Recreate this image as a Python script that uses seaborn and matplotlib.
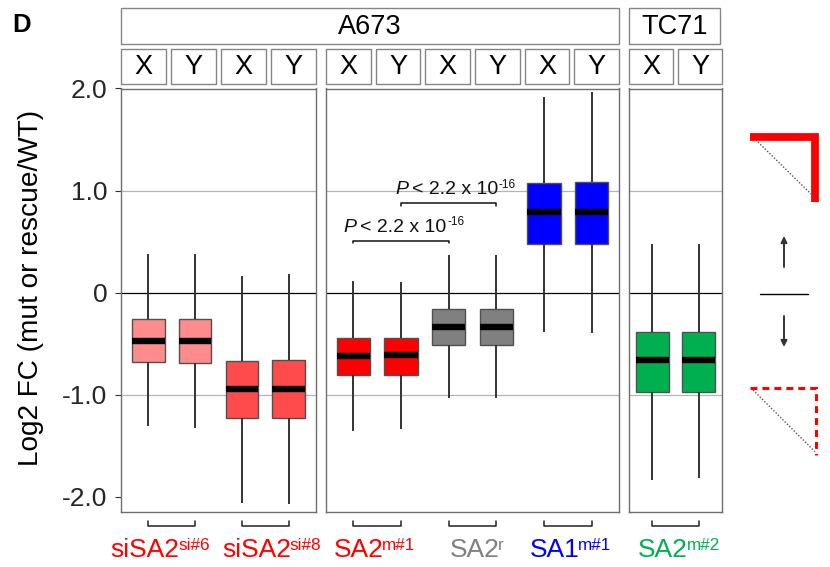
import numpy as np
import pandas as pd
import matplotlib
matplotlib.use("Agg")
import matplotlib.pyplot as plt
import matplotlib.transforms as mtransforms
from matplotlib.patches import Rectangle
import seaborn as sns

# ---------------------------------------------------------------------------
# Data: five-number summaries (lower whisker, Q1, median, Q3, upper whisker)
# of log2 fold change per condition, for chromosome X and chromosome Y genes.
# ---------------------------------------------------------------------------
groups = ["siSA2si#6", "siSA2si#8", "SA2m#1", "SA2r", "SA1m#1", "SA2m#2"]
label_base = ["siSA2", "siSA2", "SA2", "SA2", "SA1", "SA2"]
label_sup = ["si#6", "si#8", "m#1", "r", "m#1", "m#2"]
cell_lines = ["A673", "TC71"]
panel_of_group = [0, 0, 1, 1, 1, 2]
chromosomes = ["X", "Y"]
box_colors = ["#FF8C8C", "#FF4B4B", "#FF0000", "#808080", "#0000FF", "#00B050"]
label_colors = ["#FF0000", "#FF0000", "#FF0000", "#808080", "#0000FF", "#00B050"]

lower_whisker_X = [-1.31, -2.06, -1.36, -1.03, -0.39, -1.84]
lower_whisker_Y = [-1.33, -2.07, -1.34, -1.03, -0.40, -1.82]
q1_X = [-0.68, -1.23, -0.81, -0.51, 0.48, -0.97]
q1_Y = [-0.69, -1.23, -0.81, -0.51, 0.48, -0.97]
median_X = [-0.47, -0.94, -0.62, -0.34, 0.79, -0.66]
median_Y = [-0.47, -0.94, -0.61, -0.34, 0.79, -0.66]
q3_X = [-0.26, -0.67, -0.44, -0.16, 1.07, -0.39]
q3_Y = [-0.26, -0.66, -0.44, -0.16, 1.08, -0.39]
upper_whisker_X = [0.38, 0.16, 0.11, 0.37, 1.92, 0.48]
upper_whisker_Y = [0.38, 0.18, 0.10, 0.37, 1.97, 0.48]

y_ticks = [2.0, 1.0, 0.0, -1.0, -2.0]
y_tick_labels = ["2.0", "1.0", "0", "-1.0", "-2.0"]

# significance brackets in the middle panel: (column a, column b, height)
pval_text = "< 2.2 x 10"
pval_exp = "-16"
pval_pairs = [(0, 2, 0.51), (1, 3, 0.875)]

five_num = {
    "X": [lower_whisker_X, q1_X, median_X, q3_X, upper_whisker_X],
    "Y": [lower_whisker_Y, q1_Y, median_Y, q3_Y, upper_whisker_Y],
}
rows = []
for gi, g in enumerate(groups):
    for c in chromosomes:
        for arr in five_num[c]:
            rows.append({"column": f"{g} {c}", "panel": panel_of_group[gi],
                         "value": arr[gi]})
df = pd.DataFrame(rows)

# ---------------------------------------------------------------------------
sns.set_theme(style="white")
plt.rcParams["font.family"] = ["Liberation Sans", "DejaVu Sans"]
plt.rcParams["lines.scale_dashes"] = False

W, H = 830, 567
fig = plt.figure(figsize=(W / 100, H / 100), dpi=100)
fig.patch.set_facecolor("white")
# pixel coordinates, origin top-left
px = mtransforms.Affine2D().scale(1 / W, -1 / H).translate(0, 1) + fig.transFigure

PLOT_TOP, PLOT_BOTTOM = 88.5, 511.5
panel_edges = [(121, 316), (326, 619), (629, 722)]
panel_xlim = [(-0.58, 3.58), (-0.577, 5.573), (-0.51, 1.51)]
YLIM = (-2.145, 2.0)
SPINE = "#6e6e6e"
# horizontal nudges (px) of the group labels relative to their bracket
label_dx = [-11.5, 6, -2.5, 4, 2.5, 3.5]

axes = []
for p, (l, r) in enumerate(panel_edges):
    ax = fig.add_axes([l / W, 1 - PLOT_BOTTOM / H, (r - l) / W,
                       (PLOT_BOTTOM - PLOT_TOP) / H])
    ax.set_facecolor("white")
    gi_list = [i for i in range(len(groups)) if panel_of_group[i] == p]
    order = [f"{groups[i]} {c}" for i in gi_list for c in chromosomes]
    pal = {f"{groups[i]} {c}": box_colors[i] for i in gi_list for c in chromosomes}
    sub = df[df["panel"] == p]

    ax.axhline(1.0, color="#b4b4b4", lw=0.9, zorder=0)
    ax.axhline(-1.0, color="#b4b4b4", lw=0.9, zorder=0)
    ax.axhline(0.0, color="black", lw=0.9, zorder=0.5)

    sns.boxplot(data=sub, x="column", y="value", hue="column", order=order,
                hue_order=order, palette=pal, saturation=1, width=0.7,
                whis=np.inf, showcaps=False, showfliers=False,
                linewidth=1, linecolor="#505050",
                medianprops=dict(color="black", linewidth=4.6,
                                 solid_capstyle="butt"),
                whiskerprops=dict(color="#333333", linewidth=1.4),
                legend=False, ax=ax)

    ax.set_xlabel("")
    ax.set_ylabel("")
    ax.set_xticks([])
    for s in ax.spines.values():
        s.set_color(SPINE)
        s.set_linewidth(1.0)
        s.set_visible(True)

    # brackets below each X/Y pair
    tr = mtransforms.blended_transform_factory(ax.transData, px)
    for k, gi in enumerate(gi_list):
        x0, x1 = 2 * k, 2 * k + 1
        ax.plot([x0, x0, x1, x1], [521, 525.7, 525.7, 521], transform=tr,
                color="#222222", lw=1.1, clip_on=False)

    ax.set_xlim(*panel_xlim[p])
    ax.set_ylim(*YLIM)
    ax.set_yticks(y_ticks)
    if p == 0:
        ax.set_yticklabels(y_tick_labels)
        ax.tick_params(axis="y", left=True, length=4.3, width=0.8,
                       color="#333333", pad=5.5, labelsize=19)
    else:
        ax.tick_params(axis="y", left=False, labelleft=False)
    ax.grid(False)
    axes.append(ax)

# strip labels: X / Y per column
for p, ax in enumerate(axes):
    l, r = panel_edges[p]
    n = sum(1 for i in range(len(groups)) if panel_of_group[i] == p) * 2
    cw = (r - l + 5) / n
    for i in range(n):
        x0 = l + i * cw
        fig.add_artist(Rectangle((x0, 49), cw - 5, 35.3, transform=px,
                                 facecolor="white", edgecolor="#858585", lw=1))
        fig.text(x0 + (cw - 5) / 2, 66.8, chromosomes[i % 2], transform=px,
                 ha="center", va="center", fontsize=19.5, color="black")

# strip labels: cell line
strip_spans = [(panel_edges[0][0], panel_edges[1][1]),
               (panel_edges[2][0], panel_edges[2][1] - 2.5)]
for name, (l, r) in zip(cell_lines, strip_spans):
    fig.add_artist(Rectangle((l, 8.3), r - l, 35.7, transform=px,
                             facecolor="white", edgecolor="#858585", lw=1))
    fig.text((l + r) / 2, 26.5, name, transform=px, ha="center", va="center",
             fontsize=19.5, color="black")

renderer = fig.canvas.get_renderer()


def rich_text(segments, x, baseline, ha="center"):
    """Place text segments side by side; each is (text, size, style, rise, gap, color)."""
    arts, widths = [], []
    for s, size, style, rise, gap, color in segments:
        t = fig.text(0, 0, s, transform=px, fontsize=size, style=style,
                     color=color, ha="left", va="baseline")
        arts.append(t)
        widths.append(t.get_window_extent(renderer).width)
    total = sum(w + seg[4] for w, seg in zip(widths, segments))
    cur = x - total / 2 if ha == "center" else x
    for t, w, seg in zip(arts, widths, segments):
        cur += seg[4]
        t.set_position((cur, baseline - seg[3]))
        cur += w


# group labels under the panels
for gi in range(len(groups)):
    p = panel_of_group[gi]
    ax = axes[p]
    k = [i for i in range(len(groups)) if panel_of_group[i] == p].index(gi)
    cx = ax.transData.transform((2 * k + 0.5, 0))[0] + label_dx[gi]
    rich_text([(label_base[gi], 19, "normal", 0, 0, label_colors[gi]),
               (label_sup[gi], 12.3, "normal", 6.5, -1.5, label_colors[gi])],
              cx, 556.7)

# p-value brackets and text in the middle panel
ax = axes[1]
text_left = [-0.21, 0.87]
for (a, b, h), tl in zip(pval_pairs, text_left):
    ax.plot([a, a, b, b], [h - 0.027, h, h, h - 0.027], color="#111111", lw=1.1)
    xl = ax.transData.transform((tl, 0))[0]
    base = H - ax.transData.transform((0, h + 0.088))[1]
    rich_text([("P", 14, "italic", 0, 0, "#111111"),
               (pval_text, 14, "normal", 0, 4, "#111111"),
               (pval_exp, 8.5, "normal", 6.5, 0.5, "#111111")],
              xl, base, ha="left")
ax.set_xlim(*panel_xlim[1])
ax.set_ylim(*YLIM)

# axis title and panel letter
fig.text(31, 288, "Log2 FC (mut or rescue/WT)", transform=px, rotation=90,
         ha="center", va="center", fontsize=20.2, color="black")
fig.text(12, 31.5, "D", transform=px, ha="left", va="baseline",
         fontsize=18.5, fontweight="bold", color="black")

# schematic key on the right
ov = fig.add_axes([0, 0, 1, 1])
ov.set_xlim(0, W)
ov.set_ylim(H, 0)
ov.axis("off")
ov.plot([750, 815, 815], [137, 137, 201.7], color="#FF0000", lw=5.6,
        solid_joinstyle="miter", solid_capstyle="butt")
ov.plot([758, 811], [142, 194], color="#555555", lw=1, ls=(0, (1, 1.3)))
arrow_kw = dict(arrowstyle="-|>", color="#333333", lw=1.4, mutation_scale=9,
                shrinkA=0, shrinkB=0)
ov.annotate("", xy=(784, 236), xytext=(784, 267), arrowprops=arrow_kw)
ov.plot([760, 808], [294, 294], color="black", lw=1)
ov.annotate("", xy=(784, 347), xytext=(784, 316), arrowprops=arrow_kw)
ov.plot([750, 816.3, 816.3], [387.5, 387.5, 455], color="#FF0000", lw=2.2,
        ls=(0, (5, 3.6)), dash_joinstyle="miter", dash_capstyle="butt")
ov.plot([753, 815], [390, 451.7], color="#555555", lw=1, ls=(0, (1, 1.3)))

fig.savefig("out.png", dpi=100)
